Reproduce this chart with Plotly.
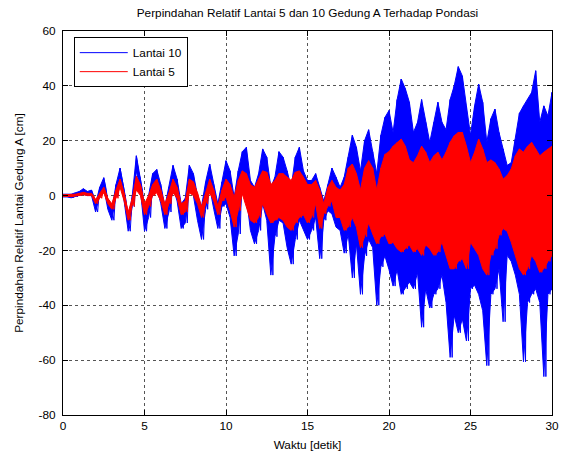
import numpy as np
import plotly.graph_objects as go

# time grid (s), one envelope sample every 0.25 s
t = np.arange(0, 30.001, 0.25)

# Lantai 10 (blue): upper and lower envelope [cm]
hi10 = [0.5, 0.5, 0.5, 1, 1.5, 2.5, 1.5, 2, -3, 3, 6.5, -2, -5, 4, 10, 2, -9, 0, 14.5, 6,
        -6, 0, 8, 9.5, 4, -4, 3, 11, 6, -3, -1, 11, 8, 0, -4, 5, 11.5, 4, -3, 5,
        12.7, 9, -0.6, 9, 16, 17.6, 5.5, 3, 8, 17, 14, 3, 6.7, 16, 14, 9, 3, 14, 17.6, 9,
        5.5, 5.5, 8, 3, -2, 4, 10, 6.7, 3, 6.7, 14, 22, 17.6, 9, 20, 24, 16, 8, 22, 28.5,
        31, 23, 35, 42.5, 39, 34, 23, 26.7, 35, 26.7, 19.4, 26.7, 34, 26.7, 24, 35, 40, 47, 43.6, 32.7,
        22, 32.7, 40.6, 34, 19.4, 28, 31.5, 23, 17, 11, 12, 20.6, 30, 32.7, 35, 37.6, 45.5, 26.7, 32.7, 29,
        37.6]
lo10 = [-0.5, -0.5, -0.8, -0.5, 0, 0.5, 0, 0, -6, 0, 3, -5, -9, 0, 6, -2, -13, -4, 9, 2,
        -13, -8, 1, 3, -3, -12, -6, 3, -2, -12, -10, 3, 0, -9, -16, -5, 3, -5, -12, -4,
        -3, -8, -22, -14, 3, -0.6, -12.7, -17.6, -12.7, -3, -9, -29, -15, -9, -10, -19, -25, -16, -9, -12.7,
        -16, -12.7, -8, -23, -9, -5.5, -6.7, -11.5, -12.7, -21, -14, -30, -17.6, -36, -22, -16, -19, -40, -26, -22,
        -27, -33, -27, -36, -34, -31.5, -34, -28, -48, -34, -41, -36, -34, -29, -39, -59, -43.6, -50, -45, -53,
        -34, -32.7, -36, -42, -62, -36, -34, -26.7, -46, -21.8, -24, -29, -36, -60.6, -39, -36, -34, -39, -66, -36,
        -34]

# Lantai 5 (red): upper and lower envelope [cm]
hi5 = [0.3, 0.3, 0.3, 0.5, 0.8, 1.2, 0.8, 0.8, -1.5, 1, 3, -1, -3, 2, 6, 1, -6, -1, 7, 4,
       -3, 0, 4, 6, 2, -3, 1, 6, 3, -3, -2, 6, 5, 1, -4, 1, 6, 2, -4, 2,
       6, 4, -0.6, 5.5, 9, 8, 4, 3, 6, 9, 8.5, 4, 5.5, 8, 8, 6.7, 5.5, 8.5, 9, 6.7,
       4, 4, 5.5, 2, -3, 3, 5.5, 3, 2, 4, 10, 11.5, 8, 2, 10, 12.7, 10, 2, 10, 15,
       16, 18, 19.4, 20.6, 18, 13, 12, 14.5, 18, 15.8, 12, 14.5, 15.8, 13, 15.8, 19.4, 21.8, 23, 23, 18,
       12, 15.8, 20.6, 17, 12, 13, 12, 9.7, 6, 7.3, 9.7, 14.5, 17, 15.8, 18, 19.4, 17, 14.5, 15.8, 17,
       18]
lo5 = [-0.3, -0.3, -0.4, -0.2, 0, 0.3, 0, 0, -3, -1, 1, -3, -5, -1, 3, -2, -9, -4, 2, 0,
       -7, -4, 0, 1, -2, -7, -3, 1, -1, -7, -6, 1, 0, -3, -8, -3, 1, -2, -7, -2,
       -0.6, -5.5, -11.5, -5.5, 0.6, -4, -9, -10, -8, -3, -6.7, -10, -9, -8, -9, -11.5, -12.7, -10, -8, -7,
       -10, -8, -3, -12, -6.7, -4, -2, -8, -8, -12.7, -11.5, -8, -11.5, -19, -15, -10, -14, -17.6, -15, -14,
       -17.6, -17, -19.4, -20.6, -19.4, -18, -20.6, -19.4, -21.8, -18, -19.4, -21.8, -20.6, -17, -21.8, -26.7, -26.7, -24, -23, -26.7,
       -17, -19.4, -21.8, -26.7, -29, -21.8, -19.4, -14.5, -12, -13, -17, -21.8, -26.7, -29, -26.7, -21.8, -24, -28, -26.7, -24,
       -21.8]

x_ticks = [0, 5, 10, 15, 20, 25, 30]
y_ticks = [-80, -60, -40, -20, 0, 20, 40, 60]
y_tick_text = ["-80", "-60", "-40", "-20", "0", "20", "40", "60"]


def zigzag(tt, hi, lo):
    xs, ys = [], []
    for ti, h, l in zip(tt, hi, lo):
        xs += [ti, ti + 0.125]
        ys += [h, l]
    return xs, ys


def band(tt, hi, lo):
    tl = list(tt)
    return tl + tl[::-1], list(hi) + list(lo)[::-1]


FONT = "Liberation Sans, Arial, Helvetica, sans-serif"
FS = 11.8
fig = go.Figure()
for name, hi, lo, col in [("Lantai 10", hi10, lo10, "#0000FF"), ("Lantai 5", hi5, lo5, "#FF0000")]:
    bx, by = band(t, hi, lo)
    fig.add_trace(go.Scatter(x=bx, y=by, mode="lines", fill="toself", fillcolor=col,
                             line=dict(color=col, width=1), showlegend=False, hoverinfo="skip"))
    zx, zy = zigzag(t, hi, lo)
    fig.add_trace(go.Scatter(x=zx, y=zy, mode="lines", name=name, legendgroup=name,
                             line=dict(color=col, width=1), showlegend=False))
    fig.add_trace(go.Scatter(x=[None], y=[None], mode="lines", name=name, legendgroup=name,
                             line=dict(color=col, width=1), showlegend=True))

axis_common = dict(showline=True, linecolor="black", linewidth=1, mirror="ticks",
                   ticks="inside", ticklen=5, tickcolor="black", zeroline=False,
                   showgrid=True, gridcolor="#555555", griddash="dot", gridwidth=1,
                   automargin=False,
                   tickfont=dict(family=FONT, size=FS, color="black"))
fig.update_xaxes(range=[0, 30], tickvals=x_ticks,
                 title=dict(text="Waktu [detik]", font=dict(family=FONT, size=FS, color="black"), standoff=8),
                 **axis_common)
fig.update_yaxes(range=[-80, 60], tickvals=y_ticks, ticktext=y_tick_text, ticklabelstandoff=4,
                 title=dict(text="Perpindahan Relatif Lantai Gedung A [cm]",
                            font=dict(family=FONT, size=FS, color="black"), standoff=12),
                 **axis_common)

fig.update_layout(
    width=564, height=457,
    margin=dict(l=63, r=12, t=31, b=42),
    paper_bgcolor="white", plot_bgcolor="white",
    title=dict(text="Perpindahan Relatif Lantai 5 dan 10 Gedung A Terhadap Pondasi",
               font=dict(family=FONT, size=FS, color="black"),
               x=0.5, xref="paper", xanchor="center", y=1 - 13 / 457, yanchor="middle"),
    legend=dict(x=0.022, y=0.984, xanchor="left", yanchor="top",
                bordercolor="black", borderwidth=1, bgcolor="white",
                font=dict(family=FONT, size=FS, color="black"),
                tracegroupgap=0, itemwidth=48),
    showlegend=True,
)

fig.write_html("out.html", config={"displayModeBar": False},
               post_script="document.body.style.margin='0';document.body.style.overflow='hidden';")
